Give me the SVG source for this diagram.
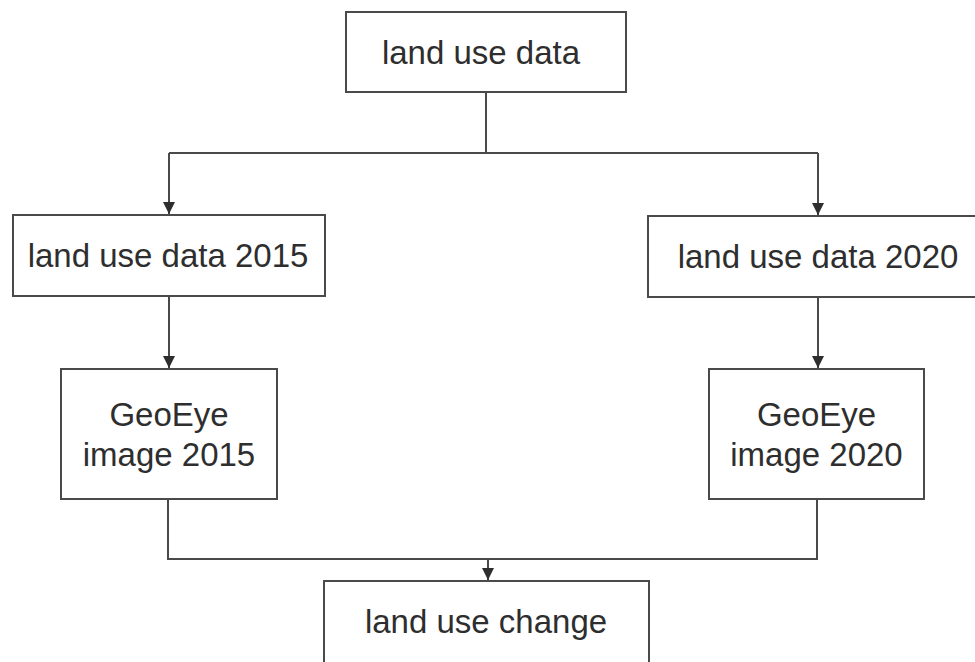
<svg xmlns="http://www.w3.org/2000/svg" width="975" height="662" viewBox="0 0 975 662">
  <style>
    .box { fill: #ffffff; stroke: #4a4a4a; stroke-width: 2; }
    .lbl { font-family: "Liberation Sans", Arial, sans-serif; font-size: 33px; fill: #2e2e2e; text-anchor: middle; }
    .conn { fill: none; stroke: #4a4a4a; stroke-width: 2; }
  </style>
  <defs>
    <marker id="arr" viewBox="0 0 10 10" refX="10" refY="5" markerWidth="6.5" markerHeight="6" markerUnits="strokeWidth" orient="auto">
      <path d="M0,0 L10,5 L0,10 Z" fill="#2e2e2e"/>
    </marker>
  </defs>
  <rect width="975" height="662" fill="#ffffff"/>

  <g id="connectors">
    <path class="conn" d="M486,92 V153"/>
    <path class="conn" d="M169,153 H818"/>
    <path class="conn" d="M169,153 V214" marker-end="url(#arr)"/>
    <path class="conn" d="M818,153 V215" marker-end="url(#arr)"/>
    <path class="conn" d="M169,296 V368" marker-end="url(#arr)"/>
    <path class="conn" d="M818,297 V368" marker-end="url(#arr)"/>
    <path class="conn" d="M168,499 V559 H817 V499"/>
    <path class="conn" d="M488,559 V580" marker-end="url(#arr)"/>
  </g>

  <g id="node-land-use-data">
    <rect class="box" x="346" y="12" width="280" height="80"/>
    <text class="lbl" x="481" y="64">land use data</text>
  </g>
  <g id="node-land-use-data-2015">
    <rect class="box" x="13" y="215" width="312" height="81"/>
    <text class="lbl" x="168" y="267">land use data 2015</text>
  </g>
  <g id="node-land-use-data-2020">
    <rect class="box" x="648" y="216" width="340" height="81"/>
    <text class="lbl" x="818" y="268">land use data 2020</text>
  </g>
  <g id="node-geoeye-2015">
    <rect class="box" x="61" y="369" width="216" height="130"/>
    <text class="lbl" x="169" y="426">GeoEye</text>
    <text class="lbl" x="169" y="466">image 2015</text>
  </g>
  <g id="node-geoeye-2020">
    <rect class="box" x="709" y="369" width="215" height="130"/>
    <text class="lbl" x="816.5" y="426">GeoEye</text>
    <text class="lbl" x="816.5" y="466">image 2020</text>
  </g>
  <g id="node-land-use-change">
    <rect class="box" x="324" y="581" width="325" height="90"/>
    <text class="lbl" x="486" y="633">land use change</text>
  </g>
</svg>
